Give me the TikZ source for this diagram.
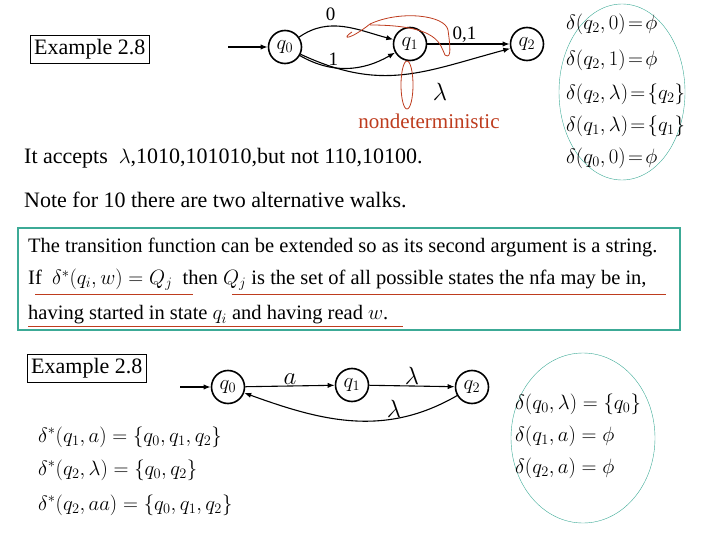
\documentclass[tikz,border=0pt]{standalone}
\usepackage{fontspec}
\setmainfont{Liberation Serif}
\usetikzlibrary{arrows.meta}
\definecolor{teal1}{RGB}{60,170,150}
\definecolor{red1}{RGB}{190,60,30}
\tikzset{st/.style={circle,draw,line width=1.6pt,inner sep=0pt,minimum size=33pt,font=\fontsize{20}{22}\selectfont},
 ar/.style={-{Latex[length=7pt]},line width=1.1pt},
 tx/.style={font=\fontsize{22}{24}\selectfont,anchor=west,inner sep=0pt},
 bx/.style={font=\fontsize{20.5}{24}\selectfont,anchor=west,inner sep=0pt},
 eq/.style={font=\fontsize{21}{24}\selectfont,anchor=west,inner sep=0pt},
 lb/.style={font=\fontsize{19}{22}\selectfont,inner sep=1pt},
 lm/.style={font=\fontsize{24}{26}\selectfont,inner sep=1pt}}
\begin{document}
\begin{tikzpicture}[x=1pt,y=-1pt]
\useasboundingbox (0,0) rectangle (720,540);
% top diagram
\node[st] (a0) at (285,47) {$q_0$};
\node[st] (a1) at (410,44) {$q_1$};
\node[st] (a2) at (527,44) {$q_2$};
\coordinate (s0) at (228,47);
\draw[ar] (s0) -- (a0);
\draw[ar] (a0) to[out=35,in=165] node[lb,above,pos=0.35,yshift=4pt] {0} (a1);
\draw[ar] (a0) to[out=-30,in=-150] node[lb,above,pos=0.35] {1} (a1);
\draw[ar] (a1) -- node[lb,above,pos=0.45] {0,1} (a2);
\draw[ar] (a0) to[out=-25,in=-165,looseness=1.1] (a2);
\node[lm] (lam) at (440,92) {$\lambda$};
\draw[red1,line width=0.8pt] (352,32) .. controls (340,40) and (350,40) .. (370,24) .. controls (400,10) and (445,15) .. (448,30) .. controls (450,45) and (452,60) .. (445,55) .. controls (440,45) and (440,25) .. (370,25);
\draw[red1,line width=0.8pt] (407,85) ellipse (6 and 24);
\node[red1,font=\fontsize{21}{24}\selectfont] (nd) at (429,121) {nondeterministic};
\node[draw,tx,inner sep=4pt] (ex1) at (30,49) {Example 2.8};
\node[tx] (acc) at (24,158) {It accepts \ $\lambda$,1010,101010,but not 110,10100.};
\node[tx] (note) at (24,200) {Note for 10 there are two alternative walks.};
\draw[teal1] (622,92) ellipse (63 and 88);
\node[eq] (d1) at (566,24) {$\delta(q_2,0)\!=\!\phi$};
\node[eq] (d2) at (566,60) {$\delta(q_2,1)\!=\!\phi$};
\node[eq] (d3) at (566,94) {$\delta(q_2,\lambda)\!=\!\{q_2\}$};
\node[eq] (d4) at (566,126) {$\delta(q_1,\lambda)\!=\!\{q_1\}$};
\node[eq] (d5) at (566,158) {$\delta(q_0,0)\!=\!\phi$};
% box
\draw[teal1,line width=1.5pt] (18,228) rectangle (680,330);
\node[bx] (t1) at (28,247) {The transition function can be extended so as its second argument is a string.};
\node[bx] (t2) at (28,280) {If \ $\delta^*(q_i,w)=Q_j$ \ then $Q_j$ is the set of all possible states the nfa may be in,};
\node[bx] (t3) at (28,315) {having started in state $q_i$ and having read $w$.};
\draw[red1] (35,294) -- (193,294);
\draw[red1] (232,294) -- (666,294);
\draw[red1] (28,326) -- (403,326);
% bottom diagram
\node[draw,tx,inner sep=4pt] (ex2) at (27,368) {Example 2.8};
\node[st] (b0) at (228,387) {$q_0$};
\node[st] (b1) at (352,385) {$q_1$};
\node[st] (b2) at (472,387) {$q_2$};
\coordinate (s1) at (180,387);
\draw[ar] (s1) -- (b0);
\draw[ar] (b0) -- node[lm,above] {$a$} (b1);
\draw[ar] (b1) -- node[lm,above] {$\lambda$} (b2);
\draw[ar] (b2) to[out=-150,in=-20] node[lm,above,pos=0.3] {$\lambda$} (b0);
\node[eq] (e1) at (38,437) {$\delta^*(q_1,a)=\{q_0,q_1,q_2\}$};
\node[eq] (e2) at (38,470) {$\delta^*(q_2,\lambda)=\{q_0,q_2\}$};
\node[eq] (e3) at (38,505) {$\delta^*(q_2,aa)=\{q_0,q_1,q_2\}$};
\draw[teal1] (583,438) ellipse (72 and 85);
\node[eq] (f1) at (515,404) {$\delta(q_0,\lambda)=\{q_0\}$};
\node[eq] (f2) at (515,436) {$\delta(q_1,a)=\phi$};
\node[eq] (f3) at (515,468) {$\delta(q_2,a)=\phi$};
\end{tikzpicture}
\end{document}
